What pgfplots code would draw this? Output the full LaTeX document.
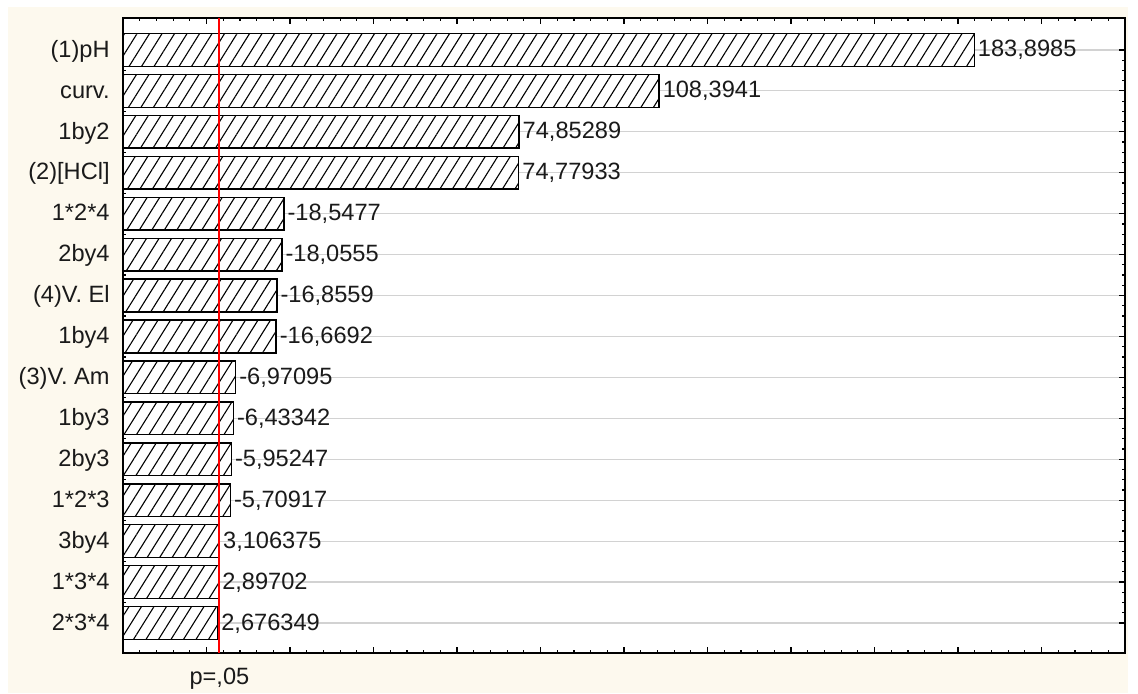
\documentclass[border=0pt]{standalone}
\usepackage{fontspec}
\setmainfont{Liberation Sans}
\usepackage{pgfplots}
\pgfplotsset{compat=1.18}
\usepackage{pgfplotstable}
\usetikzlibrary{patterns.meta}

\definecolor{bgcream}{HTML}{FDF9EE}
\definecolor{txt}{HTML}{1A1A1A}
\definecolor{gridgray}{HTML}{D2D2D2}

% standardized effects (bar length = |t|), label = signed value
\pgfplotstableread{
pos len lab
15 183.8985 183,8985
14 108.3941 108,3941
13 74.85289 74,85289
12 74.77933 74,77933
11 18.5477 -18,5477
10 18.0555 -18,0555
9 16.8559 -16,8559
8 16.6692 -16,6692
7 6.97095 -6,97095
6 6.43342 -6,43342
5 5.95247 -5,95247
4 5.70917 -5,70917
3 3.106375 3,106375
2 2.89702 2,89702
1 2.676349 2,676349
}\effects

\begin{document}
\begin{tikzpicture}
\useasboundingbox (-61.5pt,-20pt) rectangle (507.5pt,326.5pt);
\fill[white] (-61.5pt,-20pt) rectangle (507.5pt,326.5pt);
\fill[bgcream] (-57.5pt,-20pt) rectangle (502.5pt,323pt);
\begin{axis}[
    at={(0pt,0pt)}, anchor=south west,
    scale only axis, width=501pt, height=317.5pt,
    axis background/.style={fill=white},
    clip=false,
    x coord trafo/.code={\pgfmathparse{#1+20}},
    x coord inv trafo/.code={\pgfmathparse{#1-20}},
    xmin=-20, xmax=220,
    ymin=0.267, ymax=15.78,
    xtick={-20,0,...,220}, xticklabels={},
    minor x tick num=4,
    ytick={1,...,15},
    yticklabels={{2*3*4},{1*3*4},{3by4},{1*2*3},{2by3},{1by3},{(3)V. Am},{1by4},{(4)V. El},{2by4},{1*2*4},{(2)[HCl]},{1by2},{curv.},{(1)pH}},
    minor y tick num=3,
    tick align=inside,
    major tick length=3pt, minor tick length=1.5pt,
    tick style={black, line width=0.6pt},
    axis line style={line width=0.9pt},
    ymajorgrids,
    major grid style={gridgray, line width=0.6pt},
    font=\fontsize{11.8}{13}\selectfont,
    yticklabel style={anchor=base east, inner sep=0pt, xshift=-6.5pt, yshift=-3.6pt, text=txt},
    bar width=0.8,
]
\addplot[xbar, draw=black, line width=0.7pt, fill=white,
    postaction={pattern={Lines[angle=58,distance=5.3pt,line width=0.55pt]}},
    point meta=explicit symbolic,
    nodes near coords,
    nodes near coords style={anchor=base west, inner sep=0pt, xshift=1.5pt, yshift=-3.5pt, text=txt}]
    table[x=len, y=pos, meta=lab]{\effects};
\addplot[red, line width=1pt] coordinates {(3.1,0.267) (3.1,15.78)};
\node[anchor=base, text=txt, inner sep=0pt] at (axis cs:3.1,0.267) [yshift=-15.5pt] {p=,05};
\end{axis}
\end{tikzpicture}
\end{document}
